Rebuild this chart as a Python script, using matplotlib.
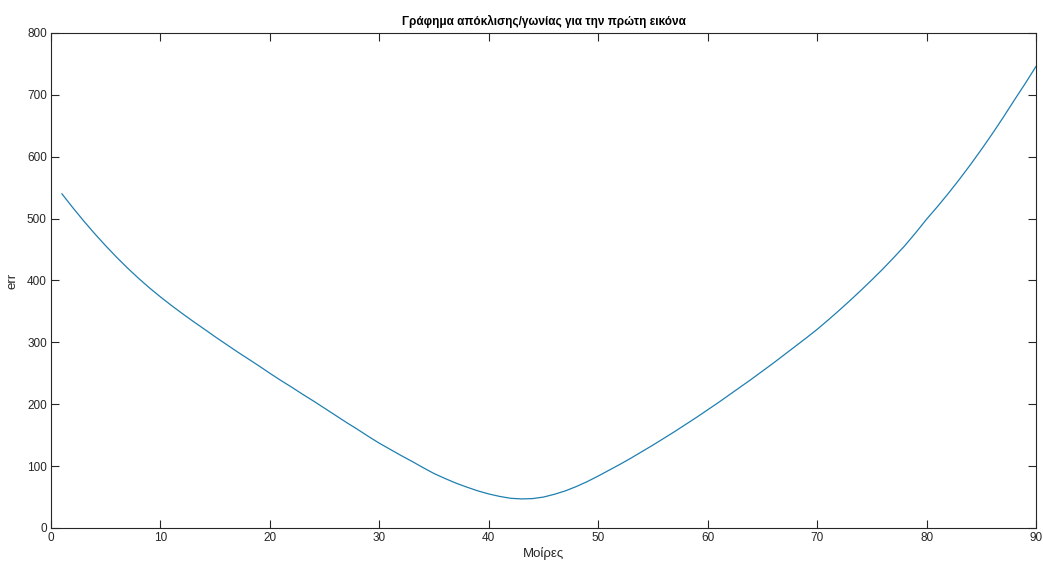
import numpy as np
import matplotlib.pyplot as plt

plt.rcParams['font.family'] = ['Liberation Sans', 'DejaVu Sans']

# error vs angle (1..90 deg)
moires = np.arange(1, 91)
err = [540, 517.5, 496, 475.5, 456, 437.5, 420, 403.5, 388, 373.5,
       359.7, 346.5, 333.8, 321.5, 309, 297, 285, 273.5, 262, 250,
       238.5, 227.5, 216, 205, 193.5, 182, 170.5, 159.5, 148, 137,
       127, 117, 107.5, 97.5, 88, 80, 72.5, 66, 60, 55,
       51, 48, 47, 47.5, 50, 54.5, 60, 67, 75, 84,
       93.5, 103, 113, 123.5, 134, 145, 156, 167.5, 179, 191,
       203, 215.5, 228, 240.5, 253.5, 266.5, 280, 293.5, 307, 321,
       336, 351.5, 367.5, 384, 401, 418.5, 437, 456, 477, 499,
       519.5, 541, 563.5, 587, 611.5, 637, 663.5, 691, 718, 746]

xticks = np.arange(0, 91, 10)
yticks = np.arange(0, 801, 100)

fig = plt.figure(figsize=(10.43, 5.67), dpi=100)
ax = fig.add_axes([0.0489, 0.0688, 0.9444, 0.873])

ax.plot(moires, err, color='#1f7fb0', linewidth=0.9)

ax.set_xlim(0, 90)
ax.set_ylim(0, 800)
ax.set_xticks(xticks)
ax.set_yticks(yticks)

ax.tick_params(direction='in', length=6, width=0.8, top=True, right=True,
               labelsize=8.5, colors='#262626', pad=3)
for s in ax.spines.values():
    s.set_color('#262626')
    s.set_linewidth(0.8)

ax.set_title('Γράφημα απόκλισης/γωνίας για την πρώτη εικόνα', fontsize=8.5,
             fontweight='bold', pad=6)
ax.set_xlabel('Μοίρες', fontsize=9.5, color='#262626', labelpad=2)
ax.set_ylabel('err', fontsize=9.5, color='#262626', labelpad=6)

fig.savefig('out.png', dpi=100)
